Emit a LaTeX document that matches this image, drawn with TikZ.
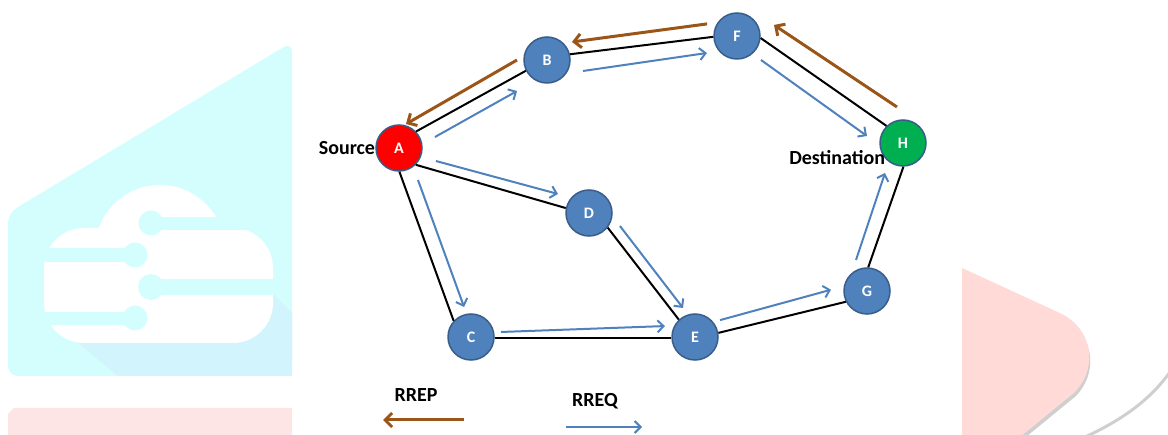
\documentclass[tikz,border=0pt]{standalone}
\usepackage{fontspec}
\setmainfont{Carlito}
\usetikzlibrary{calc,arrows.meta}
\definecolor{hostblue}{HTML}{4F81BD}
\definecolor{hostedge}{HTML}{385D8A}
\definecolor{hostgreen}{HTML}{00B050}
\definecolor{reqblue}{HTML}{4F81BD}
\definecolor{repbrown}{HTML}{9C5518}
\definecolor{markcyan}{HTML}{D4FEFE}
\definecolor{markshade}{HTML}{D2F4FC}
\definecolor{markpink}{HTML}{FDE5E5}
\definecolor{markrose}{HTML}{FFDAD6}
\definecolor{markgray}{HTML}{CFCFCF}
\tikzset{
  host/.style={circle, draw=hostedge, line width=1.5pt, fill=hostblue, minimum size=46pt, inner sep=0pt, text=white, font=\bfseries\fontsize{16}{16}\selectfont},
  link/.style={draw=black, line width=2pt},
  rreq/.style={draw=reqblue, line width=2pt, -{Straight Barb[length=6pt,width=12pt]}},
  rrep/.style={draw=repbrown, line width=3pt, -{Straight Barb[length=7pt,width=14pt]}},
  tag/.style={font=\bfseries\fontsize{20}{20}\selectfont, inner sep=0pt},
}
\def\msg[#1](#2:#3:#4)(#5:#6:#7){\draw[#1] ($(#2)+(#3:#4pt)$) -- ($(#5)+(#6:#7pt)$);}

\begin{document}
\begin{tikzpicture}[x=1pt,y=-1pt]
			%%%%% START %%%%%
			\useasboundingbox (0,0) rectangle (1168,435);
			
			\fill[markcyan, rounded corners=10pt] (8,213) -- (292,42) -- (292,376) -- (8,376) -- cycle;
			\fill[markshade] (78,343) -- (272,293) -- (292,313) -- (292,376) -- (118,376) -- cycle;
			\fill[white] (160,250) circle (65);
			\fill[white] (220,290) circle (53);
			\fill[white, rounded corners=40pt] (44,228) rectangle (273,343);
			\fill[markcyan] (151,223) circle (12.5);
			\fill[markcyan] (151,217) rectangle (285,230);
			\fill[markcyan] (135,255) circle (12.5);
			\fill[markcyan] (40,248) rectangle (135,262);
			\fill[markcyan] (151,287) circle (13);
			\fill[markcyan] (151,279) rectangle (285,295);
			\fill[markcyan] (135,318) circle (12.5);
			\fill[markcyan] (40,312) rectangle (135,325);
			\fill[markpink] (8,435) -- (8,414) -- (14,408) -- (292,408) -- (292,435) -- cycle;
			
			\fill[markgray, shift={(1,4)}] (962,268) -- (1062,314) .. controls (1090,328) and (1100,365) .. (1075,392) -- (1020,437) -- (962,437) -- cycle;
			\fill[markrose] (962,268) -- (1062,314) .. controls (1090,328) and (1100,365) .. (1075,392) -- (1020,437) -- (962,437) -- cycle;
			\draw[markgray, line width=3pt] (1170,372) .. controls (1150,400) and (1122,420) .. (1085,437);
			
			\node[host, fill=red] (A) at (399,148) {A};
			\node[host] (B) at (547,60) {B};
			\node[host] (F) at (737,36) {F};
			\node[host, fill=hostgreen] (H) at (903,143) {H};
			\node[host] (D) at (589,213) {D};
			\node[host] (C) at (471,337) {C};
			\node[host] (E) at (695,337) {E};
			\node[host] (G) at (867,291) {G};
			
			\draw[link] (A.44) -- (B.207);
			\draw[link] (B.14) -- (F.182);
			\draw[link] (F.-5) -- (H.134);
			\draw[link] (A.-45) -- (D.168);
			\draw[link] (A.-89) -- (C.137);
			\draw[link] (D.-38) -- (E.133);
			\draw[link] (C.-3) -- (E.183);
			\draw[link] (E.10) -- (G.207);
			\draw[link] (G.87) -- (H.-89);
			
			\msg[rreq](A:17:37.6)(B:226:43.1)
			\msg[rreq](B:-17:37.6)(F:209.5:34.5)
			\msg[rreq](F:-45:33.9)(H:169:36.7)
			\msg[rreq](A:-19.4:39.2)(D:148.5:36.4)
			\msg[rreq](A:-59.3:37.2)(C:103:30.8)
			\msg[rreq](D:-22.8:33.6)(E:112.5:31.4)
			\msg[rreq](C:9.5:30.4)(E:160:32)
			\msg[rreq](E:34:30.2)(G:178:36)
			\msg[rreq](G:109.5:32.9)(H:239:35)
			
			\msg[rrep](H:99.5:36.5)(F:16.6:38.6)
			\msg[rrep](F:158:32.3)(B:35.8:30.8)
			\msg[rrep](B:180:30)(A:73.7:25)
			
			\node[tag, anchor=east] (source) at (A.west) {Source};
			\node[tag, anchor=east] (dest) at ([xshift=6pt,yshift=-15pt]H.west) {Destination};
			
			\node[tag] (rrep) at (416,395) {RREP};
			\coordinate (repfrom) at (464,420);
			\coordinate (repto) at (383,420);
			\draw[rrep] (repfrom) -- (repto);
			
			\node[tag] (rreq) at (595,401) {RREQ};
			\coordinate (reqfrom) at (566,427);
			\coordinate (reqto) at (642,427);
			\draw[rreq] (reqfrom) -- (reqto);
			
			%%%%% END %%%%%
\end{tikzpicture}
\end{document}
